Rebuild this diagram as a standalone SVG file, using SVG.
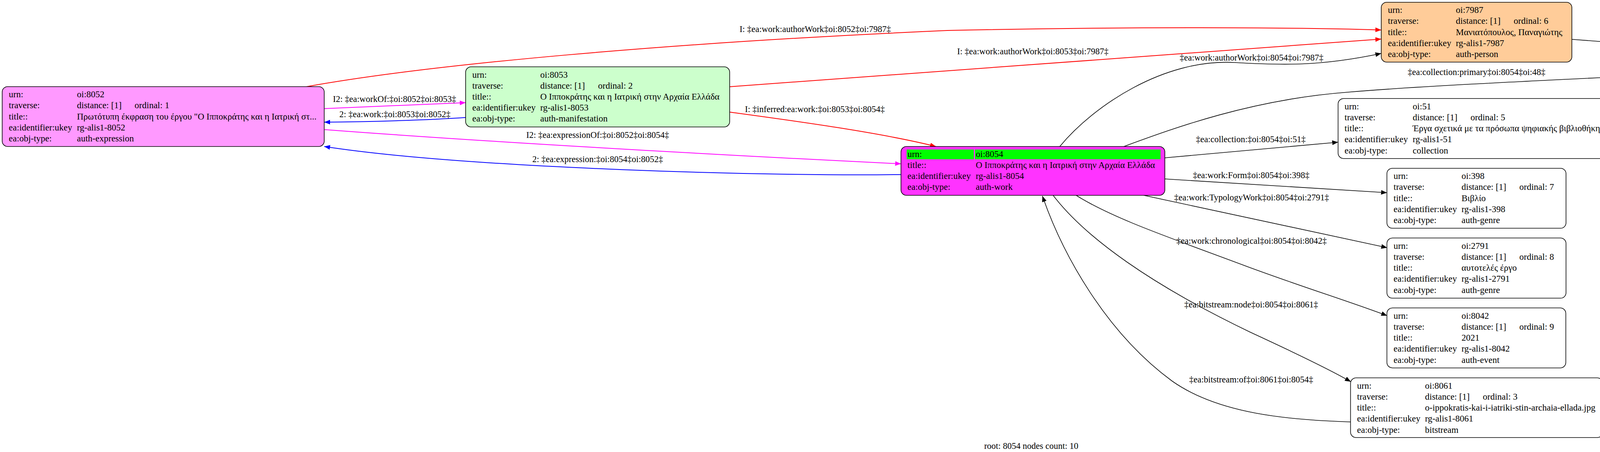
<svg xmlns="http://www.w3.org/2000/svg" width="5169" height="1157" viewBox="0 0 5169 1157">
<style>
text{font-family:"Liberation Serif","Times New Roman",serif;font-size:22.5px;fill:#000}
.n text{font-size:23px}
.lbl{text-anchor:middle}
.box{stroke:#000;stroke-width:1.6}
.e{fill:none;stroke-width:1.6}
.red{stroke:#ff0000;stroke-width:2}
.blue{stroke:#0000ff;stroke-width:2}
.mag{stroke:#ff00ff;stroke-width:2}
.blk{stroke:#000}
</style>
<defs>
<marker id="aR" markerUnits="userSpaceOnUse" markerWidth="16" markerHeight="12" refX="15" refY="6" orient="auto"><path d="M0,0 L15,6 L0,12 z" fill="#ff0000"/></marker>
<marker id="aB" markerUnits="userSpaceOnUse" markerWidth="16" markerHeight="12" refX="15" refY="6" orient="auto"><path d="M0,0 L15,6 L0,12 z" fill="#0000ff"/></marker>
<marker id="aM" markerUnits="userSpaceOnUse" markerWidth="16" markerHeight="12" refX="15" refY="6" orient="auto"><path d="M0,0 L15,6 L0,12 z" fill="#ff00ff"/></marker>
<marker id="aK" markerUnits="userSpaceOnUse" markerWidth="16" markerHeight="12" refX="15" refY="6" orient="auto"><path d="M0,0 L15,6 L0,12 z" fill="#000"/></marker>
</defs>
<rect width="5169" height="1157" fill="#fff"/>

<g id="connectors">
<path class="e red" d="M784,222 C1100,165 1700,110 2425,78 C2900,68 3300,70 3536,76.7" marker-end="url(#aR)"/>
<path class="e red" d="M1868,222 L3536,100" marker-end="url(#aR)"/>
<path class="e red" d="M1868,287 C2000,305 2250,338 2396,375" marker-end="url(#aR)"/>
<path class="e mag" d="M831,278 L1192,262.7" marker-end="url(#aM)"/>
<path class="e blue" d="M1192,300.7 C1100,307 950,312 830,312.7" marker-end="url(#aB)"/>
<path class="e mag" d="M831,331.7 C1200,360 1800,395 2306.6,419.3" marker-end="url(#aM)"/>
<path class="e blue" d="M2306.6,446.7 C2000,452 1200,432 830,375" marker-end="url(#aB)"/>
<path class="e blk" d="M2713,375 C2800,270 2980,150 3160,160 C3280,167 3380,170 3536,136.7" marker-end="url(#aK)"/>
<path class="e blk" d="M2877,375 C3000,330 3200,255 3450,236 C3700,215 4100,200 4538,176.7" marker-end="url(#aK)"/>
<path class="e blk" d="M2982,404 L3425.5,364" marker-end="url(#aK)"/>
<path class="e blk" d="M2982,458 L3550.6,493.3" marker-end="url(#aK)"/>
<path class="e blk" d="M2928,500 L3551,634" marker-end="url(#aK)"/>
<path class="e blk" d="M2755,500 C2850,560 3000,610 3200,685 C3350,740 3450,770 3551,808" marker-end="url(#aK)"/>
<path class="e blk" d="M2696,500 C2780,610 2950,730 3200,850 C3330,910 3420,955 3458,977" marker-end="url(#aK)"/>
<path class="e blk" d="M3457.4,1080 C3300,1075 3120,1060 3000,975 C2830,850 2720,650 2668.6,501.7" marker-end="url(#aK)"/>
<path class="e blk" d="M4024,100.7 L4538,140" marker-end="url(#aK)"/>

<text class="lbl" x="2087" y="82">I: ‡ea:work:authorWork‡oi:8052‡oi:7987‡</text>
<text class="lbl" x="2644" y="139">I: ‡ea:work:authorWork‡oi:8053‡oi:7987‡</text>
<text x="1907" y="287">I: ‡inferred:ea:work:‡oi:8053‡oi:8054‡</text>
<text class="lbl" x="1010" y="261">I2: ‡ea:workOf:‡oi:8052‡oi:8053‡</text>
<text class="lbl" x="1011" y="300">2: ‡ea:work:‡oi:8053‡oi:8052‡</text>
<text class="lbl" x="1530" y="353">I2: ‡ea:expressionOf:‡oi:8052‡oi:8054‡</text>
<text class="lbl" x="1530" y="415">2: ‡ea:expression:‡oi:8054‡oi:8052‡</text>
<text class="lbl" x="3204" y="155">‡ea:work:authorWork‡oi:8054‡oi:7987‡</text>
<text class="lbl" x="3780" y="192">‡ea:collection:primary‡oi:8054‡oi:48‡</text>
<text class="lbl" x="3202" y="364">‡ea:collection:‡oi:8054‡oi:51‡</text>
<text class="lbl" x="3203" y="456">‡ea:work:Form‡oi:8054‡oi:398‡</text>
<text class="lbl" x="3204" y="513">‡ea:work:TypologyWork‡oi:8054‡oi:2791‡</text>
<text class="lbl" x="3204" y="624">‡ea:work:chronological‡oi:8054‡oi:8042‡</text>
<text class="lbl" x="3203" y="787">‡ea:bitstream:node‡oi:8054‡oi:8061‡</text>
<text class="lbl" x="3203" y="979">‡ea:bitstream:of‡oi:8061‡oi:8054‡</text>
<text class="lbl" x="4337" y="109">‡ea:collection:primary‡oi:7987‡oi:48‡</text>
</g>

<g id="node-8052" class="n">
<rect class="box" x="5.6" y="221.7" width="824.4" height="153.3" rx="14" fill="#ff99ff"/>
<text x="22.6" y="249.2">urn:</text><text x="197" y="249.2">oi:8052</text>
<text x="22.6" y="277.4">traverse:</text><text x="197" y="277.4">distance: [1]</text><text x="344.6" y="277.4">ordinal: 1</text>
<text x="22.6" y="305.6">title::</text><text x="197" y="305.6">Πρωτότυπη έκφραση του έργου "Ο Ιπποκράτης και η Ιατρική στ...</text>
<text x="22.6" y="333.8">ea:identifier:ukey</text><text x="197" y="333.8">rg-alis1-8052</text>
<text x="22.6" y="362">ea:obj-type:</text><text x="197" y="362">auth-expression</text>
</g>

<g id="node-8053" class="n">
<rect class="box" x="1192" y="171" width="676" height="154" rx="14" fill="#ccffcc"/>
<text x="1209" y="198.5">urn:</text><text x="1383" y="198.5">oi:8053</text>
<text x="1209" y="226.7">traverse:</text><text x="1383" y="226.7">distance: [1]</text><text x="1531" y="226.7">ordinal: 2</text>
<text x="1209" y="254.9">title::</text><text x="1383" y="254.9">Ο Ιπποκράτης και η Ιατρική στην Αρχαία Ελλάδα</text>
<text x="1209" y="283.1">ea:identifier:ukey</text><text x="1383" y="283.1">rg-alis1-8053</text>
<text x="1209" y="311.3">ea:obj-type:</text><text x="1383" y="311.3">auth-manifestation</text>
</g>

<g id="node-8054" class="n">
<rect class="box" x="2306.5" y="375" width="675.5" height="125" rx="14" fill="#ff33ff"/>
<rect x="2321" y="382.7" width="172" height="25" fill="#00ff00"/>
<rect x="2496" y="382.7" width="475" height="25" fill="#00ff00"/>
<text x="2323" y="401.5">urn:</text><text x="2498" y="401.5">oi:8054</text>
<text x="2323" y="429.7">title::</text><text x="2498" y="429.7">Ο Ιπποκράτης και η Ιατρική στην Αρχαία Ελλάδα</text>
<text x="2323" y="457.9">ea:identifier:ukey</text><text x="2498" y="457.9">rg-alis1-8054</text>
<text x="2323" y="486.1">ea:obj-type:</text><text x="2498" y="486.1">auth-work</text>
</g>

<g id="node-7987" class="n">
<rect class="box" x="3536" y="5.7" width="488" height="153.3" rx="14" fill="#ffcc99"/>
<text x="3553" y="33.2">urn:</text><text x="3727" y="33.2">oi:7987</text>
<text x="3553" y="61.4">traverse:</text><text x="3727" y="61.4">distance: [1]</text><text x="3875" y="61.4">ordinal: 6</text>
<text x="3553" y="89.6">title::</text><text x="3727" y="89.6">Μανιατόπουλος, Παναγιώτης</text>
<text x="3553" y="117.8">ea:identifier:ukey</text><text x="3727" y="117.8">rg-alis1-7987</text>
<text x="3553" y="146">ea:obj-type:</text><text x="3727" y="146">auth-person</text>
</g>

<g id="node-48" class="n">
<rect class="box" x="4538" y="86" width="626" height="153" rx="14" fill="#fff"/>
<text x="4554" y="113.5">urn:</text><text x="4730" y="113.5">oi:48</text>
<text x="4554" y="141.7">traverse:</text><text x="4730" y="141.7">distance: [1]</text><text x="4880" y="141.7">ordinal: 4</text>
<text x="4554" y="169.9">title::</text><text x="4730" y="169.9">39. Ιστορία της Αρχαίας ελληνικής ιατρικής</text>
<text x="4554" y="198.1">ea:identifier:ukey</text><text x="4730" y="198.1">rg-alis1-48</text>
<text x="4554" y="226.3">ea:obj-type:</text><text x="4730" y="226.3">collection</text>
</g>

<g id="node-51" class="n">
<rect class="box" x="3425.5" y="252.3" width="712" height="153.4" rx="14" fill="#fff"/>
<text x="3442" y="279.8">urn:</text><text x="3616.5" y="279.8">oi:51</text>
<text x="3442" y="308">traverse:</text><text x="3616.5" y="308">distance: [1]</text><text x="3764.5" y="308">ordinal: 5</text>
<text x="3442" y="336.2">title::</text><text x="3616.5" y="336.2">Έργα σχετικά με τα πρόσωπα ψηφιακής βιβλιοθήκης</text>
<text x="3442" y="364.4">ea:identifier:ukey</text><text x="3616.5" y="364.4">rg-alis1-51</text>
<text x="3442" y="392.6">ea:obj-type:</text><text x="3616.5" y="392.6">collection</text>
</g>

<g id="node-398" class="n">
<rect class="box" x="3550.5" y="430.7" width="458.5" height="153.6" rx="14" fill="#fff"/>
<text x="3567.5" y="458.2">urn:</text><text x="3741.5" y="458.2">oi:398</text>
<text x="3567.5" y="486.4">traverse:</text><text x="3741.5" y="486.4">distance: [1]</text><text x="3889.5" y="486.4">ordinal: 7</text>
<text x="3567.5" y="514.6">title::</text><text x="3741.5" y="514.6">Βιβλίο</text>
<text x="3567.5" y="542.8">ea:identifier:ukey</text><text x="3741.5" y="542.8">rg-alis1-398</text>
<text x="3567.5" y="571">ea:obj-type:</text><text x="3741.5" y="571">auth-genre</text>
</g>

<g id="node-2791" class="n">
<rect class="box" x="3550.5" y="609.3" width="458.5" height="154" rx="14" fill="#fff"/>
<text x="3567.5" y="636.8">urn:</text><text x="3741.5" y="636.8">oi:2791</text>
<text x="3567.5" y="665">traverse:</text><text x="3741.5" y="665">distance: [1]</text><text x="3889.5" y="665">ordinal: 8</text>
<text x="3567.5" y="693.2">title::</text><text x="3741.5" y="693.2">αυτοτελές έργο</text>
<text x="3567.5" y="721.4">ea:identifier:ukey</text><text x="3741.5" y="721.4">rg-alis1-2791</text>
<text x="3567.5" y="749.6">ea:obj-type:</text><text x="3741.5" y="749.6">auth-genre</text>
</g>

<g id="node-8042" class="n">
<rect class="box" x="3550.5" y="788.3" width="458" height="153.4" rx="14" fill="#fff"/>
<text x="3567.5" y="815.8">urn:</text><text x="3741.5" y="815.8">oi:8042</text>
<text x="3567.5" y="844">traverse:</text><text x="3741.5" y="844">distance: [1]</text><text x="3889.5" y="844">ordinal: 9</text>
<text x="3567.5" y="872.2">title::</text><text x="3741.5" y="872.2">2021</text>
<text x="3567.5" y="900.4">ea:identifier:ukey</text><text x="3741.5" y="900.4">rg-alis1-8042</text>
<text x="3567.5" y="928.6">ea:obj-type:</text><text x="3741.5" y="928.6">auth-event</text>
</g>

<g id="node-8061" class="n">
<rect class="box" x="3457.4" y="967.3" width="645.6" height="152.7" rx="14" fill="#fff"/>
<text x="3474" y="994.8">urn:</text><text x="3648" y="994.8">oi:8061</text>
<text x="3474" y="1023">traverse:</text><text x="3648" y="1023">distance: [1]</text><text x="3796" y="1023">ordinal: 3</text>
<text x="3474" y="1051.2">title::</text><text x="3648" y="1051.2">o-ippokratis-kai-i-iatriki-stin-archaia-ellada.jpg</text>
<text x="3474" y="1079.4">ea:identifier:ukey</text><text x="3648" y="1079.4">rg-alis1-8061</text>
<text x="3474" y="1107.6">ea:obj-type:</text><text x="3648" y="1107.6">bitstream</text>
</g>

<text class="lbl" x="2640" y="1149">root: 8054 nodes count: 10</text>
</svg>
